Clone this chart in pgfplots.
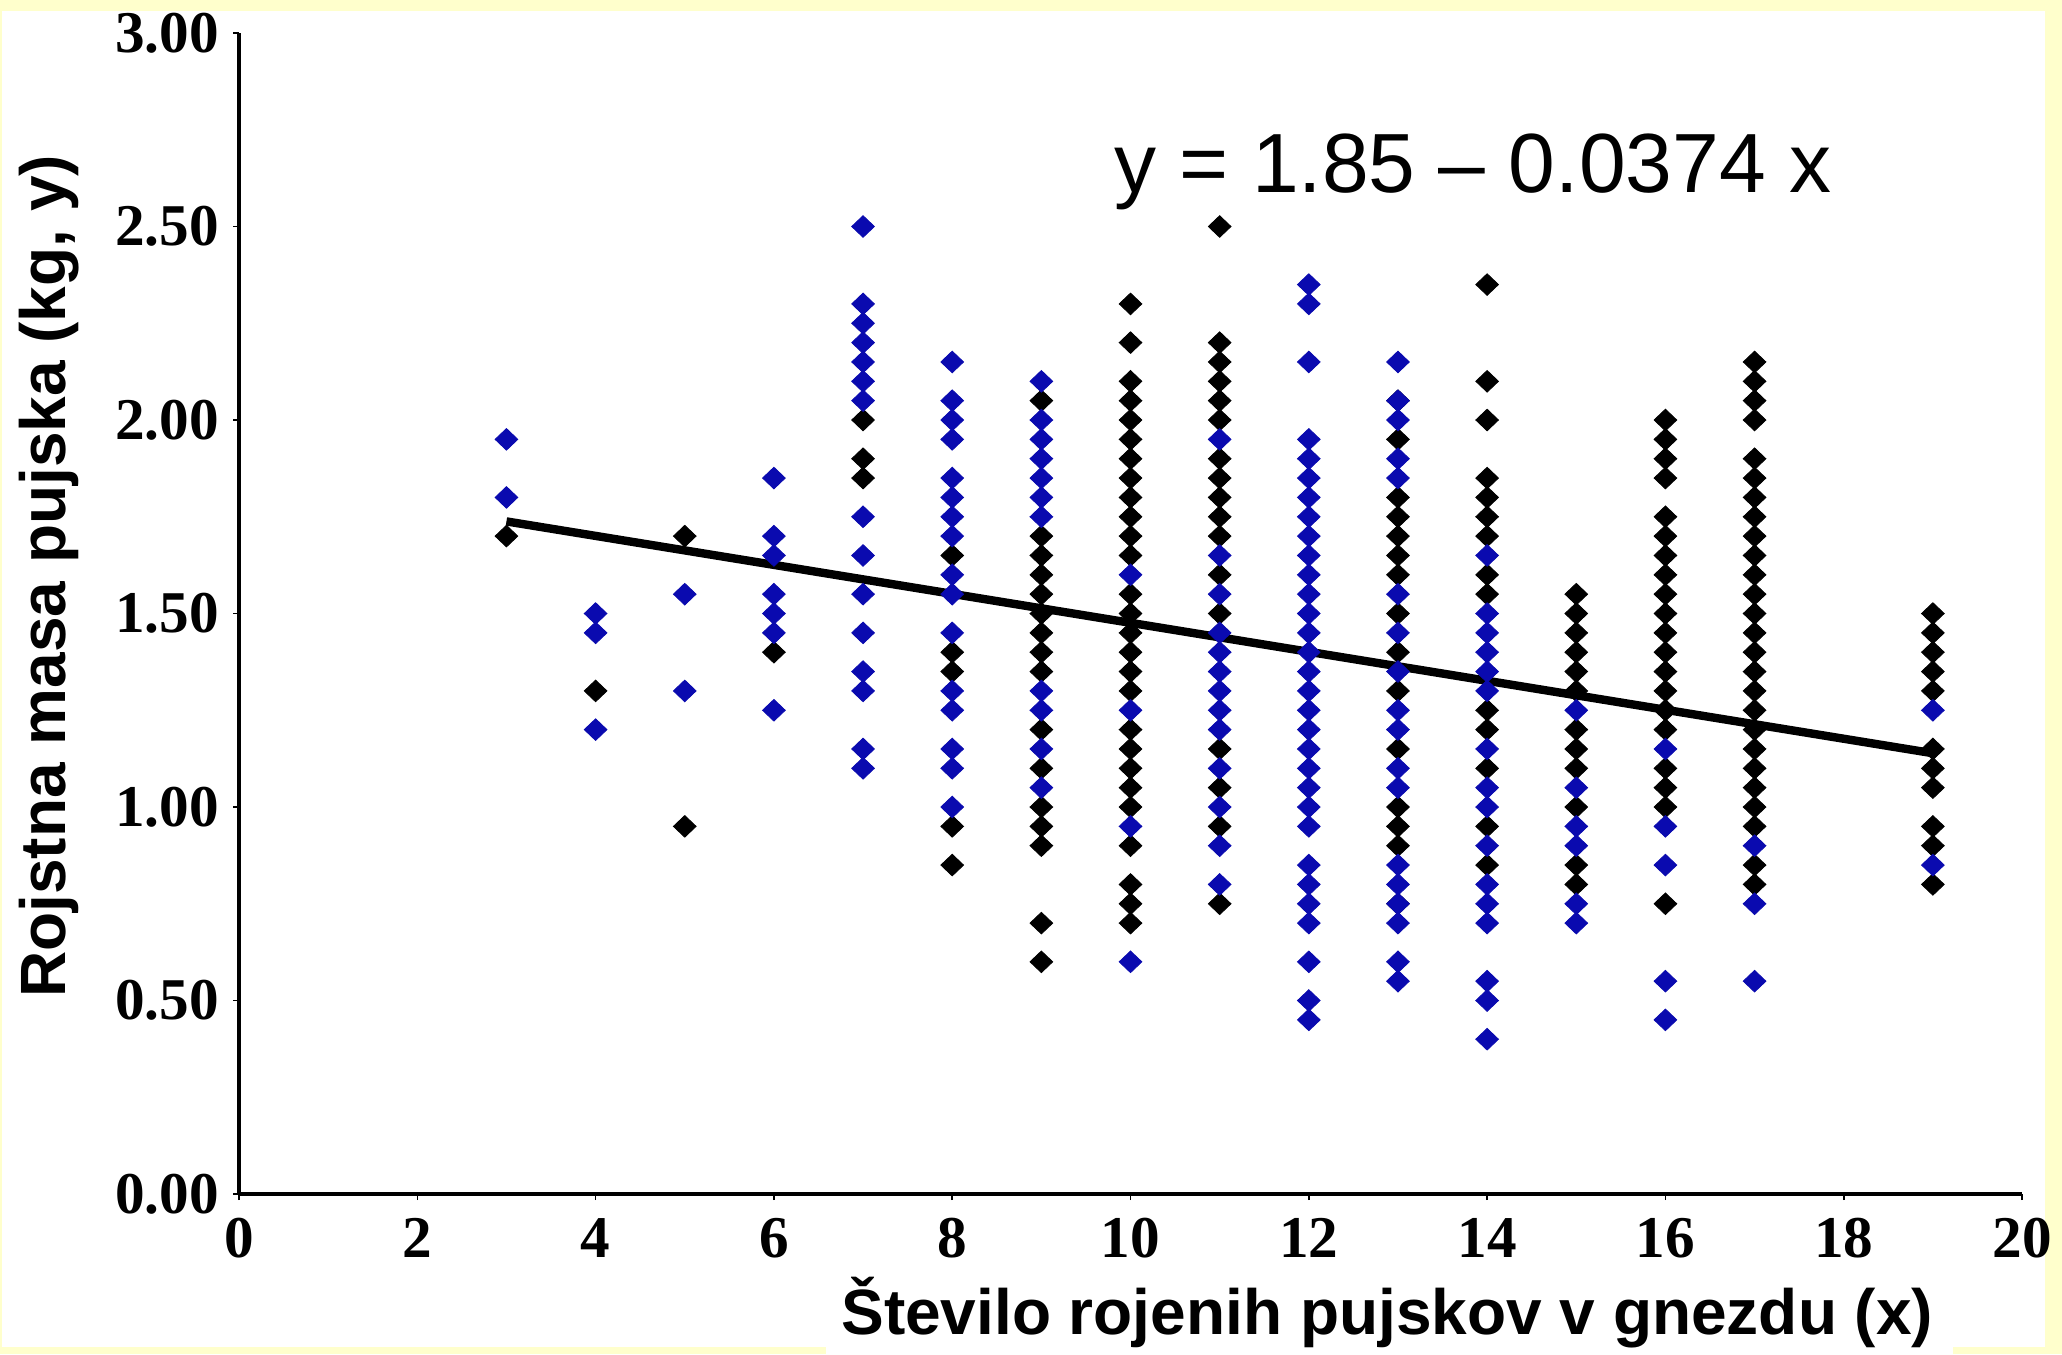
\documentclass[border=0pt]{standalone}
\usepackage{pgfplots}
\pgfplotsset{compat=1.18}
\usepackage{fontspec}
\setmainfont{Liberation Serif}
\newfontfamily\arial{Liberation Sans}
\definecolor{slideyellow}{RGB}{255,255,204}
\definecolor{ptblue}{RGB}{10,10,175}
\begin{document}
\begin{tikzpicture}
\useasboundingbox (0pt,0pt) rectangle (515.5pt,338.5pt);
\fill[slideyellow] (0pt,0pt) rectangle (515.5pt,338.5pt);
\fill[white] (0.5pt,1.75pt) rectangle (511.25pt,335.75pt);
\fill[white] (206.5pt,0pt) rectangle (488.25pt,2pt);
\begin{axis}[
  at={(59.75pt,40pt)}, anchor=south west,
  scale only axis, width=445.75pt, height=290.25pt,
  xmin=0, xmax=20, ymin=0, ymax=3,
  axis lines*=left,
  axis line style={line width=1pt},
  xtick={0,2,4,6,8,10,12,14,16,18,20},
  ytick={0,0.5,1,1.5,2,2.5,3},
  tick align=outside, major tick length=1.5pt,
  tick style={line width=0.4pt, black},
  y tick label style={/pgf/number format/fixed, /pgf/number format/fixed zerofill, /pgf/number format/precision=2},
  x tick label style={yshift=-1pt},
  tick label style={font=\bfseries\fontsize{14.8}{16}\selectfont},
  /pgf/number format/assume math mode=true,
  xlabel={Število rojenih pujskov v gnezdu (x)},
  ylabel={Rojstna masa pujska (kg, y)},
  xlabel style={font=\arial\bfseries\fontsize{16}{18}\selectfont, at={(axis description cs:0.644,-0.1214)}, anchor=base},
  ylabel style={font=\arial\bfseries\fontsize{16}{18}\selectfont, at={(axis description cs:-0.1063,0.532)}, anchor=center},
  clip=false,
]
% black points
\addplot[black, only marks, mark=diamond*, mark size=2.7pt, mark options={xscale=1.4, fill=black, draw=black, line width=0.2pt}] table {
x y
3 1.70
4 1.30
5 1.70
5 0.95
6 1.40
7 2.00
7 1.90
7 1.85
8 1.65
8 1.40
8 1.35
8 0.95
8 0.85
9 2.05
9 1.70
9 1.65
9 1.60
9 1.55
9 1.50
9 1.45
9 1.40
9 1.35
9 1.20
9 1.10
9 1.00
9 0.95
9 0.90
9 0.70
9 0.60
10 2.30
10 2.20
10 2.10
10 2.05
10 2.00
10 1.95
10 1.90
10 1.85
10 1.80
10 1.75
10 1.70
10 1.65
10 1.55
10 1.50
10 1.45
10 1.40
10 1.35
10 1.30
10 1.20
10 1.15
10 1.10
10 1.05
10 1.00
10 0.90
10 0.80
10 0.75
10 0.70
11 2.50
11 2.20
11 2.15
11 2.10
11 2.05
11 2.00
11 1.90
11 1.85
11 1.80
11 1.75
11 1.70
11 1.60
11 1.50
11 1.15
11 1.05
11 0.95
11 0.75
13 2.05
13 1.95
13 1.80
13 1.75
13 1.70
13 1.65
13 1.60
13 1.50
13 1.40
13 1.30
13 1.15
13 1.00
13 0.95
13 0.90
13 0.75
14 2.35
14 2.10
14 2.00
14 1.85
14 1.80
14 1.75
14 1.70
14 1.60
14 1.55
14 1.25
14 1.20
14 1.10
14 0.95
14 0.85
15 1.55
15 1.50
15 1.45
15 1.40
15 1.35
15 1.30
15 1.20
15 1.15
15 1.10
15 1.00
15 0.85
15 0.80
16 2.00
16 1.95
16 1.90
16 1.85
16 1.75
16 1.70
16 1.65
16 1.60
16 1.55
16 1.50
16 1.45
16 1.40
16 1.35
16 1.30
16 1.25
16 1.20
16 1.10
16 1.05
16 1.00
16 0.75
17 2.15
17 2.10
17 2.05
17 2.00
17 1.90
17 1.85
17 1.80
17 1.75
17 1.70
17 1.65
17 1.60
17 1.55
17 1.50
17 1.45
17 1.40
17 1.35
17 1.30
17 1.25
17 1.20
17 1.15
17 1.10
17 1.05
17 1.00
17 0.95
17 0.85
17 0.80
19 1.50
19 1.45
19 1.40
19 1.35
19 1.30
19 1.15
19 1.10
19 1.05
19 0.95
19 0.90
19 0.80
};
% blue points
\addplot[ptblue, only marks, mark=diamond*, mark size=2.7pt, mark options={xscale=1.4, fill=ptblue, draw=ptblue, line width=0.2pt}] table {
x y
3 1.95
3 1.80
4 1.50
4 1.45
4 1.20
5 1.55
5 1.30
6 1.85
6 1.70
6 1.65
6 1.55
6 1.50
6 1.45
6 1.25
7 2.50
7 2.30
7 2.25
7 2.20
7 2.15
7 2.10
7 2.05
7 1.75
7 1.65
7 1.55
7 1.45
7 1.35
7 1.30
7 1.15
7 1.10
8 2.15
8 2.05
8 2.00
8 1.95
8 1.85
8 1.80
8 1.75
8 1.70
8 1.60
8 1.55
8 1.45
8 1.30
8 1.25
8 1.15
8 1.10
8 1.00
9 2.10
9 2.00
9 1.95
9 1.90
9 1.85
9 1.80
9 1.75
9 1.30
9 1.25
9 1.15
9 1.05
10 1.60
10 1.25
10 0.95
10 0.60
11 1.95
11 1.65
11 1.55
11 1.45
11 1.40
11 1.35
11 1.30
11 1.25
11 1.20
11 1.10
11 1.00
11 0.90
11 0.80
12 2.35
12 2.30
12 2.15
12 1.95
12 1.90
12 1.85
12 1.80
12 1.75
12 1.70
12 1.65
12 1.60
12 1.55
12 1.50
12 1.45
12 1.40
12 1.35
12 1.30
12 1.25
12 1.20
12 1.15
12 1.10
12 1.05
12 1.00
12 0.95
12 0.85
12 0.80
12 0.75
12 0.70
12 0.60
12 0.50
12 0.45
13 2.15
13 2.05
13 2.00
13 1.90
13 1.85
13 1.55
13 1.45
13 1.35
13 1.25
13 1.20
13 1.10
13 1.05
13 0.85
13 0.80
13 0.75
13 0.70
13 0.60
13 0.55
14 1.65
14 1.50
14 1.45
14 1.40
14 1.35
14 1.30
14 1.15
14 1.05
14 1.00
14 0.90
14 0.80
14 0.75
14 0.70
14 0.55
14 0.50
14 0.40
15 1.25
15 1.05
15 0.95
15 0.90
15 0.75
15 0.70
16 1.15
16 0.95
16 0.85
16 0.55
16 0.45
17 0.90
17 0.75
17 0.55
19 1.25
19 0.85
};
% fitted line
\addplot[black, line width=2.1pt, no marks] coordinates {(3,1.738) (19,1.139)};
\node[font=\arial\fontsize{21}{24}\selectfont, anchor=base] at (axis cs:13.84,2.587) {y = 1.85 – 0.0374 x};
\end{axis}
\end{tikzpicture}
\end{document}
